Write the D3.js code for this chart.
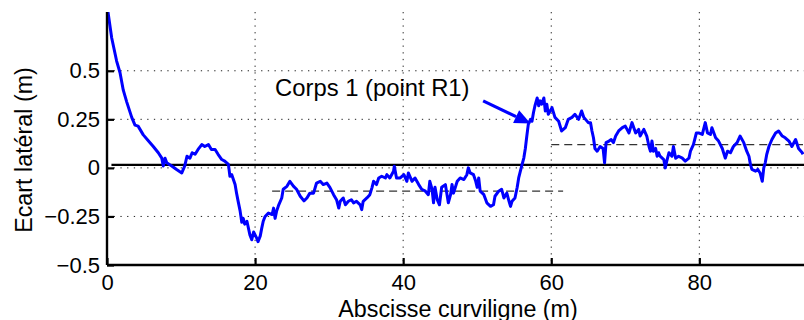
<!DOCTYPE html>
<html><head><meta charset="utf-8">
<script src="https://cdn.jsdelivr.net/npm/d3@7"></script>
<style>body{margin:0;background:#fff;}svg{display:block;font-family:"Liberation Sans",Arial,Helvetica,sans-serif;}</style>
</head><body><svg id="c" width="804" height="320"></svg>
<script>
const xs = [0,0.18,0.63,1.3,1.76,2.2,2.66,3.34,3.78,4.2,4.9,5.58,6.25,6.93,7.4,7.6,7.84,8.07,8.74,9.4,10.1,10.5,10.8,11.2,11.5,11.9,12.3,12.8,13.2,13.7,14.1,14.6,15.0,15.5,15.9,16.4,16.6,16.85,17.3,17.5,17.7,17.97,18.2,18.4,18.6,18.9,19.3,19.55,19.8,20.2,20.4,20.7,20.9,21.1,21.35,21.8,22.3,22.5,22.7,22.9,23.2,23.6,23.8,24.3,24.7,25.2,25.6,26.1,26.6,27.0,27.4,27.9,28.3,28.8,29.2,29.7,30.1,30.6,31.0,31.3,31.5,31.9,32.2,32.6,33.0,33.3,33.7,34.2,34.4,34.6,35.1,35.5,35.8,36.0,36.4,36.7,37.1,37.6,37.8,38.2,38.7,38.8,39.1,39.6,40.1,40.5,40.7,41.2,41.6,42.1,42.5,43.0,43.4,43.6,43.9,44.1,44.3,44.6,44.9,45.2,45.7,46.1,46.4,46.6,46.8,47.3,47.7,48.2,48.6,48.8,49.05,49.5,49.8,50.0,50.2,50.4,50.9,51.3,51.8,52.2,52.4,52.9,53.3,53.6,54.0,54.3,54.5,54.7,55.1,55.4,55.6,56.0,56.3,56.5,56.7,56.9,57.2,57.4,57.6,57.8,58.1,58.3,58.5,58.7,59.0,59.2,59.4,59.6,60.1,60.5,61.0,61.4,61.9,62.3,62.8,63.2,63.7,64.1,64.4,65.0,65.3,65.5,65.7,65.9,66.2,66.6,67.0,67.2,67.4,67.8,68.1,68.4,68.7,69.1,69.6,70.0,70.5,70.9,71.4,71.8,72.0,72.5,72.9,73.2,73.4,73.6,73.8,74.1,74.3,74.5,74.7,75.2,75.4,75.6,75.9,76.3,76.5,76.8,77.2,77.7,78.1,78.6,78.8,79.2,79.6,79.9,80.4,80.8,81.1,81.5,81.7,82.2,82.6,83.1,83.5,83.8,84.2,84.6,85.1,85.5,86.0,86.4,86.7,86.9,87.1,87.6,87.9,88.2,88.5,88.7,88.9,89.1,89.4,89.8,90.3,90.7,91.2,91.6,92.1,92.5,93.0,93.4,93.9,94];
const ys = [0.84,0.79,0.67,0.55,0.49,0.40,0.34,0.26,0.22,0.215,0.17,0.14,0.11,0.078,0.05,0.01,0.05,0.026,0.01,-0.008,-0.026,0.01,0.06,0.05,0.078,0.07,0.095,0.12,0.11,0.12,0.095,0.095,0.07,0.043,0.035,0.018,-0.043,-0.035,-0.086,-0.13,-0.17,-0.22,-0.28,-0.26,-0.29,-0.275,-0.345,-0.37,-0.33,-0.36,-0.38,-0.35,-0.31,-0.275,-0.25,-0.233,-0.24,-0.207,-0.26,-0.224,-0.19,-0.155,-0.11,-0.095,-0.069,-0.095,-0.11,-0.146,-0.17,-0.155,-0.13,-0.13,-0.078,-0.069,-0.086,-0.078,-0.10,-0.138,-0.164,-0.207,-0.172,-0.155,-0.19,-0.172,-0.164,-0.18,-0.172,-0.19,-0.215,-0.172,-0.155,-0.138,-0.10,-0.069,-0.086,-0.052,-0.043,-0.052,-0.035,-0.052,-0.017,0.009,-0.052,-0.052,-0.035,-0.069,-0.026,-0.069,-0.052,-0.086,-0.11,-0.12,-0.138,-0.069,-0.11,-0.18,-0.10,-0.164,-0.19,-0.10,-0.086,-0.18,-0.138,-0.086,-0.13,-0.069,-0.052,-0.06,-0.035,0.0,-0.026,-0.035,-0.069,-0.10,-0.052,-0.12,-0.138,-0.18,-0.198,-0.19,-0.146,-0.12,-0.11,-0.155,-0.13,-0.172,-0.198,-0.172,-0.155,-0.10,-0.052,0.009,0.052,0.10,0.164,0.224,0.25,0.24,0.285,0.32,0.36,0.32,0.345,0.328,0.36,0.293,0.328,0.276,0.31,0.26,0.24,0.19,0.207,0.25,0.26,0.276,0.25,0.293,0.26,0.233,0.233,0.19,0.155,0.10,0.086,0.11,0.10,0.026,0.13,0.138,0.146,0.13,0.164,0.19,0.207,0.215,0.18,0.233,0.18,0.198,0.164,0.198,0.164,0.11,0.086,0.138,0.086,0.10,0.06,0.078,0.06,0.043,0.0,0.035,0.078,0.06,0.11,0.05,0.06,0.05,0.035,0.05,0.086,0.12,0.18,0.18,0.172,0.233,0.18,0.172,0.207,0.155,0.138,0.10,0.05,0.086,0.078,0.11,0.13,0.164,0.13,0.086,0.06,0.018,-0.008,-0.017,-0.008,-0.026,-0.069,0.0,0.026,0.069,0.11,0.146,0.18,0.19,0.164,0.155,0.138,0.11,0.146,0.10,0.078,0.07];
const xTicks = [0,20,40,60,80];
const yTicks = [-0.5,-0.25,0,0.25,0.5];
const yTickLabels = ["\u22120.5","\u22120.25","0","0.25","0.5"];
const refLine = {y:0.015, x0:0.6, x1:94};
const meanSeg = [{x0:22.3,x1:61.6,y:-0.12},{x0:60,x1:94,y:0.12}];
const annotText = "Corps 1 (point R1)";
const annotPos = {x:22.7, y:0.37};
const arrow = {x0:50.8, y0:0.345, x1:57.2, y1:0.228};

const svg = d3.select("#c");
const L=107,R=803,T=12,B=265;
const x = d3.scaleLinear().domain([0,94]).range([L,R]);
const y = d3.scaleLinear().domain([-0.5,0.8]).range([B,T+0.5]);

svg.append("defs").append("clipPath").attr("id","clip").append("rect")
  .attr("x",L).attr("y",T).attr("width",R-L+2).attr("height",B-T);

// grid
const g = svg.append("g").attr("stroke","#222").attr("stroke-width",1).attr("stroke-dasharray","1.3,5.4");
xTicks.filter(d=>d>0).forEach(d=>g.append("line").attr("x1",x(d)).attr("x2",x(d)).attr("y1",T).attr("y2",B));
yTicks.filter(d=>d>-0.5).forEach(d=>g.append("line").attr("x1",L).attr("x2",R+1).attr("y1",y(d)).attr("y2",y(d)));

// zero reference line
svg.append("line").attr("x1",x(refLine.x0)).attr("x2",x(refLine.x1)+2).attr("y1",y(refLine.y)).attr("y2",y(refLine.y))
  .attr("stroke","#000").attr("stroke-width",2.2);

// mean dashed segments
meanSeg.forEach(s=>svg.append("line").attr("x1",x(s.x0)).attr("x2",x(s.x1)).attr("y1",y(s.y)).attr("y2",y(s.y))
  .attr("stroke","#333").attr("stroke-width",1.2).attr("stroke-dasharray","8,5"));

// data line
const line = d3.line().x((d,i)=>x(xs[i])).y((d,i)=>y(ys[i]));
svg.append("path").datum(ys).attr("clip-path","url(#clip)").attr("d",line)
  .attr("fill","none").attr("stroke","#0000ff").attr("stroke-width",3).attr("stroke-linejoin","round");

// axes
const xAxis = d3.axisBottom(x).tickValues(xTicks).tickSizeInner(-7).tickSizeOuter(0).tickPadding(14).tickFormat(d3.format("d"));
const yAxis = d3.axisLeft(y).tickValues(yTicks).tickSizeInner(-7).tickSizeOuter(0).tickPadding(14).tickFormat((d,i)=>yTickLabels[i]);
const gx = svg.append("g").attr("transform",`translate(0,${B})`).call(xAxis);
gx.select(".domain").attr("d",`M${L},0H${R+2}`).attr("stroke","#000").attr("stroke-width",2.4);
const gy = svg.append("g").attr("transform",`translate(${L},0)`).call(yAxis);
gy.select(".domain").attr("d",`M0,${T}V${B}`).attr("stroke","#000").attr("stroke-width",2.4);
[gx,gy].forEach(a=>{a.selectAll(".tick line").attr("stroke","#000").attr("stroke-width",2.2);
  a.selectAll("text").attr("font-size",22).attr("fill","#000").attr("font-family","'Liberation Sans',Arial,sans-serif");});
gx.selectAll("text").attr("dy","0.71em").attr("y",9.5);
gy.selectAll("text").attr("x",-7);

// axis labels
svg.append("text").attr("x",458).attr("y",316.5).attr("text-anchor","middle").attr("font-size",23.3).text("Abscisse curviligne (m)");
svg.append("text").attr("transform",`translate(32,150) rotate(-90)`).attr("text-anchor","middle").attr("font-size",23.3).text("Ecart latéral (m)");

// annotation
svg.append("text").attr("x",x(annotPos.x)).attr("y",y(annotPos.y)).attr("font-size",23.8).text(annotText);
const ax0=x(arrow.x0), ay0=y(arrow.y0), ax1=x(arrow.x1), ay1=y(arrow.y1);
const ang=Math.atan2(ay1-ay0, ax1-ax0), hl=16, hw=7;
const bx=ax1-hl*Math.cos(ang), by=ay1-hl*Math.sin(ang);
svg.append("line").attr("x1",ax0).attr("y1",ay0).attr("x2",bx).attr("y2",by).attr("stroke","#0000ff").attr("stroke-width",3.2);
svg.append("path").attr("d",`M${ax1},${ay1}L${bx-hw*Math.sin(ang)},${by+hw*Math.cos(ang)}L${bx+hw*Math.sin(ang)},${by-hw*Math.cos(ang)}Z`).attr("fill","#0000ff");
</script></body></html>
